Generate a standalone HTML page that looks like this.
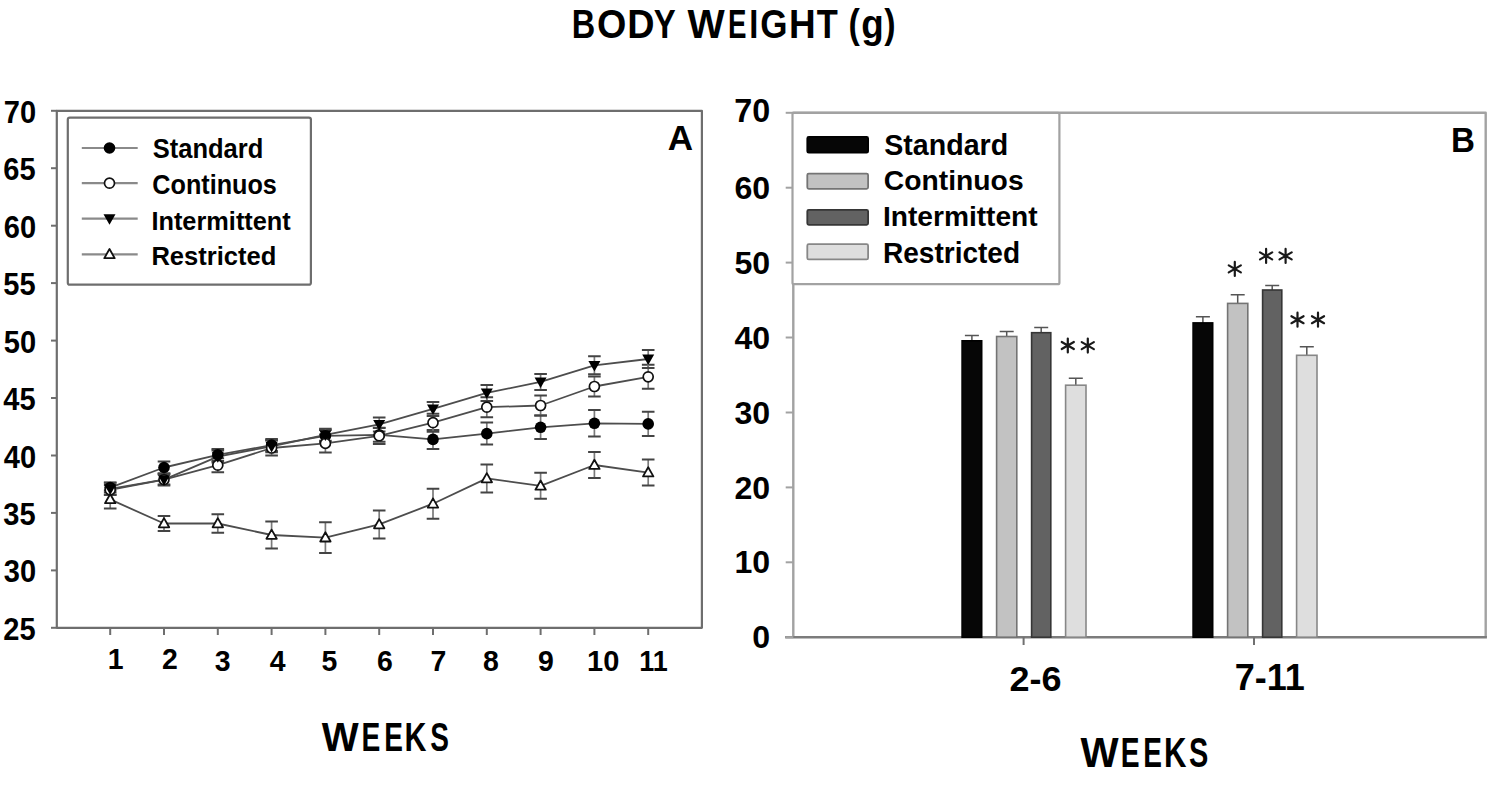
<!DOCTYPE html>
<html><head><meta charset="utf-8"><title>Body weight</title>
<style>
html,body{margin:0;padding:0;background:#fff;}
body{width:1495px;height:787px;overflow:hidden;}
svg{display:block;}
text{font-family:"Liberation Sans", sans-serif;font-weight:bold;fill:#000;}
</style></head><body>
<svg width="1495" height="787" viewBox="0 0 1495 787">
<rect width="1495" height="787" fill="#fff"/>
<text transform="translate(571.77,38.10) scale(0.7941,1)" font-size="40.90">B</text>
<text transform="translate(596.92,38.10) scale(0.9219,1)" font-size="40.90">O</text>
<text transform="translate(627.34,38.10) scale(0.9232,1)" font-size="40.90">D</text>
<text transform="translate(653.79,38.10) scale(0.8053,1)" font-size="40.90">Y</text>
<text transform="translate(687.50,38.10) scale(0.9645,1)" font-size="40.90">W</text>
<text transform="translate(727.97,38.10) scale(0.6767,1)" font-size="40.90">E</text>
<text transform="translate(749.16,38.10) scale(0.7980,1)" font-size="40.90">I</text>
<text transform="translate(760.20,38.10) scale(0.8571,1)" font-size="40.90">G</text>
<text transform="translate(789.09,38.10) scale(0.9018,1)" font-size="40.90">H</text>
<text transform="translate(816.70,38.10) scale(0.8426,1)" font-size="40.90">T</text>
<text transform="translate(848.61,38.10) scale(0.8318,1)" font-size="40.90">(</text>
<text transform="translate(861.15,38.10) scale(0.9009,1)" font-size="40.90">g</text>
<text transform="translate(884.30,38.10) scale(0.8318,1)" font-size="40.90">)</text>
<rect x="56.8" y="110.8" width="645.1" height="517.0" fill="none" stroke="#6e6e6e" stroke-width="2.2" stroke-linejoin="round"/>
<line x1="51" y1="110.8" x2="56.8" y2="110.8" stroke="#6e6e6e" stroke-width="2"/>
<text transform="translate(3.74,122.91) scale(0.9200,1)" font-size="31.60">70</text>
<line x1="51" y1="168.2" x2="56.8" y2="168.2" stroke="#6e6e6e" stroke-width="2"/>
<text transform="translate(3.29,180.35) scale(0.9200,1)" font-size="31.60">65</text>
<line x1="51" y1="225.7" x2="56.8" y2="225.7" stroke="#6e6e6e" stroke-width="2"/>
<text transform="translate(3.74,237.80) scale(0.9200,1)" font-size="31.60">60</text>
<line x1="51" y1="283.1" x2="56.8" y2="283.1" stroke="#6e6e6e" stroke-width="2"/>
<text transform="translate(3.29,295.24) scale(0.9200,1)" font-size="31.60">55</text>
<line x1="51" y1="340.6" x2="56.8" y2="340.6" stroke="#6e6e6e" stroke-width="2"/>
<text transform="translate(3.74,352.69) scale(0.9200,1)" font-size="31.60">50</text>
<line x1="51" y1="398.0" x2="56.8" y2="398.0" stroke="#6e6e6e" stroke-width="2"/>
<text transform="translate(3.29,410.13) scale(0.9200,1)" font-size="31.60">45</text>
<line x1="51" y1="455.5" x2="56.8" y2="455.5" stroke="#6e6e6e" stroke-width="2"/>
<text transform="translate(3.74,467.57) scale(0.9200,1)" font-size="31.60">40</text>
<line x1="51" y1="512.9" x2="56.8" y2="512.9" stroke="#6e6e6e" stroke-width="2"/>
<text transform="translate(3.29,525.02) scale(0.9200,1)" font-size="31.60">35</text>
<line x1="51" y1="570.4" x2="56.8" y2="570.4" stroke="#6e6e6e" stroke-width="2"/>
<text transform="translate(3.74,582.46) scale(0.9200,1)" font-size="31.60">30</text>
<line x1="51" y1="627.8" x2="56.8" y2="627.8" stroke="#6e6e6e" stroke-width="2"/>
<text transform="translate(3.29,639.91) scale(0.9200,1)" font-size="31.60">25</text>
<line x1="110.2" y1="627.8" x2="110.2" y2="635" stroke="#6e6e6e" stroke-width="2"/>
<line x1="164.0" y1="627.8" x2="164.0" y2="635" stroke="#6e6e6e" stroke-width="2"/>
<line x1="217.8" y1="627.8" x2="217.8" y2="635" stroke="#6e6e6e" stroke-width="2"/>
<line x1="271.6" y1="627.8" x2="271.6" y2="635" stroke="#6e6e6e" stroke-width="2"/>
<line x1="325.4" y1="627.8" x2="325.4" y2="635" stroke="#6e6e6e" stroke-width="2"/>
<line x1="379.2" y1="627.8" x2="379.2" y2="635" stroke="#6e6e6e" stroke-width="2"/>
<line x1="433.0" y1="627.8" x2="433.0" y2="635" stroke="#6e6e6e" stroke-width="2"/>
<line x1="486.8" y1="627.8" x2="486.8" y2="635" stroke="#6e6e6e" stroke-width="2"/>
<line x1="540.6" y1="627.8" x2="540.6" y2="635" stroke="#6e6e6e" stroke-width="2"/>
<line x1="594.4" y1="627.8" x2="594.4" y2="635" stroke="#6e6e6e" stroke-width="2"/>
<line x1="648.2" y1="627.8" x2="648.2" y2="635" stroke="#6e6e6e" stroke-width="2"/>
<text transform="translate(107.66,669.30) scale(0.9800,1)" font-size="29.00">1</text>
<text transform="translate(161.91,669.30) scale(0.9800,1)" font-size="29.00">2</text>
<text transform="translate(214.63,671.40) scale(0.9800,1)" font-size="29.00">3</text>
<text transform="translate(269.71,671.40) scale(0.9800,1)" font-size="29.00">4</text>
<text transform="translate(321.43,671.40) scale(0.9800,1)" font-size="29.00">5</text>
<text transform="translate(376.91,671.40) scale(0.9800,1)" font-size="29.00">6</text>
<text transform="translate(430.53,671.40) scale(0.9800,1)" font-size="29.00">7</text>
<text transform="translate(482.91,671.40) scale(0.9800,1)" font-size="29.00">8</text>
<text transform="translate(538.11,671.40) scale(0.9800,1)" font-size="29.00">9</text>
<text transform="translate(587.05,671.40) scale(1.0000,1)" font-size="29.00">10</text>
<text transform="translate(639.14,671.40) scale(0.9300,1)" font-size="29.00">11</text>
<rect x="67.8" y="117.6" rx="2" width="243.1" height="167.1" fill="#fff" stroke="#6e6e6e" stroke-width="2.2"/>
<line x1="81.8" y1="148" x2="137.7" y2="148" stroke="#8a8a8a" stroke-width="2.2"/>
<circle cx="109.5" cy="148.0" r="5.8" fill="#000"/>
<text transform="translate(152.70,158.40) scale(0.9420,1)" font-size="27.10">Standard</text>
<line x1="81.8" y1="183.2" x2="137.7" y2="183.2" stroke="#8a8a8a" stroke-width="2.2"/>
<circle cx="109.5" cy="183.2" r="5.0" fill="#fff" stroke="#111" stroke-width="1.7"/>
<text transform="translate(152.31,194.20) scale(0.9302,1)" font-size="27.10">Continuos</text>
<line x1="81.8" y1="218.7" x2="137.7" y2="218.7" stroke="#8a8a8a" stroke-width="2.2"/>
<path d="M103.5,214.3L115.5,214.3L109.5,224.8Z" fill="#000"/>
<text transform="translate(151.42,229.60) scale(0.9497,1)" font-size="26.69">Intermittent</text>
<line x1="81.8" y1="254.3" x2="137.7" y2="254.3" stroke="#8a8a8a" stroke-width="2.2"/>
<path d="M104.3,258.2L114.7,258.2L109.5,249.0Z" fill="#fff" stroke="#111" stroke-width="1.8" stroke-linejoin="round"/>
<text transform="translate(151.40,264.60) scale(0.9728,1)" font-size="26.28">Restricted</text>
<text transform="translate(667.75,150.20) scale(0.9820,1)" font-size="35.70">A</text>
<path d="M110.2,482.6V492.6" stroke="#7a7a7a" stroke-width="1.7" fill="none"/>
<path d="M103.9,482.6H116.5M103.9,492.6H116.5" stroke="#444" stroke-width="2.0" fill="none"/>
<path d="M164.0,461.5V473.5" stroke="#7a7a7a" stroke-width="1.7" fill="none"/>
<path d="M157.7,461.5H170.3M157.7,473.5H170.3" stroke="#444" stroke-width="2.0" fill="none"/>
<path d="M217.8,448.9V460.9" stroke="#7a7a7a" stroke-width="1.7" fill="none"/>
<path d="M211.5,448.9H224.1M211.5,460.9H224.1" stroke="#444" stroke-width="2.0" fill="none"/>
<path d="M271.6,439.1V451.1" stroke="#7a7a7a" stroke-width="1.7" fill="none"/>
<path d="M265.3,439.1H277.9M265.3,451.1H277.9" stroke="#444" stroke-width="2.0" fill="none"/>
<path d="M325.4,429.9V441.9" stroke="#7a7a7a" stroke-width="1.7" fill="none"/>
<path d="M319.1,429.9H331.7M319.1,441.9H331.7" stroke="#444" stroke-width="2.0" fill="none"/>
<path d="M379.2,427.8V441.8" stroke="#7a7a7a" stroke-width="1.7" fill="none"/>
<path d="M372.9,427.8H385.5M372.9,441.8H385.5" stroke="#444" stroke-width="2.0" fill="none"/>
<path d="M433.0,429.9V448.9" stroke="#7a7a7a" stroke-width="1.7" fill="none"/>
<path d="M426.7,429.9H439.3M426.7,448.9H439.3" stroke="#444" stroke-width="2.0" fill="none"/>
<path d="M486.8,422.6V444.6" stroke="#7a7a7a" stroke-width="1.7" fill="none"/>
<path d="M480.5,422.6H493.1M480.5,444.6H493.1" stroke="#444" stroke-width="2.0" fill="none"/>
<path d="M540.6,415.6V439.0" stroke="#7a7a7a" stroke-width="1.7" fill="none"/>
<path d="M534.3,415.6H546.9M534.3,439.0H546.9" stroke="#444" stroke-width="2.0" fill="none"/>
<path d="M594.4,410.0V436.6" stroke="#7a7a7a" stroke-width="1.7" fill="none"/>
<path d="M588.1,410.0H600.7M588.1,436.6H600.7" stroke="#444" stroke-width="2.0" fill="none"/>
<path d="M648.2,411.7V436.1" stroke="#7a7a7a" stroke-width="1.7" fill="none"/>
<path d="M641.9,411.7H654.5M641.9,436.1H654.5" stroke="#444" stroke-width="2.0" fill="none"/>
<path d="M110.2,484.9V494.9" stroke="#7a7a7a" stroke-width="1.7" fill="none"/>
<path d="M103.9,484.9H116.5M103.9,494.9H116.5" stroke="#444" stroke-width="2.0" fill="none"/>
<path d="M164.0,474.6V484.6" stroke="#7a7a7a" stroke-width="1.7" fill="none"/>
<path d="M157.7,474.6H170.3M157.7,484.6H170.3" stroke="#444" stroke-width="2.0" fill="none"/>
<path d="M217.8,458.2V472.2" stroke="#7a7a7a" stroke-width="1.7" fill="none"/>
<path d="M211.5,458.2H224.1M211.5,472.2H224.1" stroke="#444" stroke-width="2.0" fill="none"/>
<path d="M271.6,440.5V455.5" stroke="#7a7a7a" stroke-width="1.7" fill="none"/>
<path d="M265.3,440.5H277.9M265.3,455.5H277.9" stroke="#444" stroke-width="2.0" fill="none"/>
<path d="M325.4,434.4V452.4" stroke="#7a7a7a" stroke-width="1.7" fill="none"/>
<path d="M319.1,434.4H331.7M319.1,452.4H331.7" stroke="#444" stroke-width="2.0" fill="none"/>
<path d="M379.2,427.9V443.9" stroke="#7a7a7a" stroke-width="1.7" fill="none"/>
<path d="M372.9,427.9H385.5M372.9,443.9H385.5" stroke="#444" stroke-width="2.0" fill="none"/>
<path d="M433.0,413.7V431.7" stroke="#7a7a7a" stroke-width="1.7" fill="none"/>
<path d="M426.7,413.7H439.3M426.7,431.7H439.3" stroke="#444" stroke-width="2.0" fill="none"/>
<path d="M486.8,397.2V417.2" stroke="#7a7a7a" stroke-width="1.7" fill="none"/>
<path d="M480.5,397.2H493.1M480.5,417.2H493.1" stroke="#444" stroke-width="2.0" fill="none"/>
<path d="M540.6,395.5V415.5" stroke="#7a7a7a" stroke-width="1.7" fill="none"/>
<path d="M534.3,395.5H546.9M534.3,415.5H546.9" stroke="#444" stroke-width="2.0" fill="none"/>
<path d="M594.4,376.5V396.5" stroke="#7a7a7a" stroke-width="1.7" fill="none"/>
<path d="M588.1,376.5H600.7M588.1,396.5H600.7" stroke="#444" stroke-width="2.0" fill="none"/>
<path d="M648.2,364.8V388.8" stroke="#7a7a7a" stroke-width="1.7" fill="none"/>
<path d="M641.9,364.8H654.5M641.9,388.8H654.5" stroke="#444" stroke-width="2.0" fill="none"/>
<path d="M110.2,482.8V494.8" stroke="#7a7a7a" stroke-width="1.7" fill="none"/>
<path d="M103.9,482.8H116.5M103.9,494.8H116.5" stroke="#444" stroke-width="2.0" fill="none"/>
<path d="M164.0,473.6V485.6" stroke="#7a7a7a" stroke-width="1.7" fill="none"/>
<path d="M157.7,473.6H170.3M157.7,485.6H170.3" stroke="#444" stroke-width="2.0" fill="none"/>
<path d="M217.8,450.6V462.6" stroke="#7a7a7a" stroke-width="1.7" fill="none"/>
<path d="M211.5,450.6H224.1M211.5,462.6H224.1" stroke="#444" stroke-width="2.0" fill="none"/>
<path d="M271.6,440.3V452.3" stroke="#7a7a7a" stroke-width="1.7" fill="none"/>
<path d="M265.3,440.3H277.9M265.3,452.3H277.9" stroke="#444" stroke-width="2.0" fill="none"/>
<path d="M325.4,428.8V440.8" stroke="#7a7a7a" stroke-width="1.7" fill="none"/>
<path d="M319.1,428.8H331.7M319.1,440.8H331.7" stroke="#444" stroke-width="2.0" fill="none"/>
<path d="M379.2,417.4V431.4" stroke="#7a7a7a" stroke-width="1.7" fill="none"/>
<path d="M372.9,417.4H385.5M372.9,431.4H385.5" stroke="#444" stroke-width="2.0" fill="none"/>
<path d="M433.0,401.9V415.9" stroke="#7a7a7a" stroke-width="1.7" fill="none"/>
<path d="M426.7,401.9H439.3M426.7,415.9H439.3" stroke="#444" stroke-width="2.0" fill="none"/>
<path d="M486.8,384.9V400.9" stroke="#7a7a7a" stroke-width="1.7" fill="none"/>
<path d="M480.5,384.9H493.1M480.5,400.9H493.1" stroke="#444" stroke-width="2.0" fill="none"/>
<path d="M540.6,373.9V389.9" stroke="#7a7a7a" stroke-width="1.7" fill="none"/>
<path d="M534.3,373.9H546.9M534.3,389.9H546.9" stroke="#444" stroke-width="2.0" fill="none"/>
<path d="M594.4,356.3V374.3" stroke="#7a7a7a" stroke-width="1.7" fill="none"/>
<path d="M588.1,356.3H600.7M588.1,374.3H600.7" stroke="#444" stroke-width="2.0" fill="none"/>
<path d="M648.2,350.0V368.0" stroke="#7a7a7a" stroke-width="1.7" fill="none"/>
<path d="M641.9,350.0H654.5M641.9,368.0H654.5" stroke="#444" stroke-width="2.0" fill="none"/>
<path d="M110.2,490.4V508.4" stroke="#7a7a7a" stroke-width="1.7" fill="none"/>
<path d="M103.9,490.4H116.5M103.9,508.4H116.5" stroke="#444" stroke-width="2.0" fill="none"/>
<path d="M164.0,516.0V531.0" stroke="#7a7a7a" stroke-width="1.7" fill="none"/>
<path d="M157.7,516.0H170.3M157.7,531.0H170.3" stroke="#444" stroke-width="2.0" fill="none"/>
<path d="M217.8,514.2V532.8" stroke="#7a7a7a" stroke-width="1.7" fill="none"/>
<path d="M211.5,514.2H224.1M211.5,532.8H224.1" stroke="#444" stroke-width="2.0" fill="none"/>
<path d="M271.6,521.5V548.5" stroke="#7a7a7a" stroke-width="1.7" fill="none"/>
<path d="M265.3,521.5H277.9M265.3,548.5H277.9" stroke="#444" stroke-width="2.0" fill="none"/>
<path d="M325.4,522.3V552.9" stroke="#7a7a7a" stroke-width="1.7" fill="none"/>
<path d="M319.1,522.3H331.7M319.1,552.9H331.7" stroke="#444" stroke-width="2.0" fill="none"/>
<path d="M379.2,510.4V538.4" stroke="#7a7a7a" stroke-width="1.7" fill="none"/>
<path d="M372.9,510.4H385.5M372.9,538.4H385.5" stroke="#444" stroke-width="2.0" fill="none"/>
<path d="M433.0,488.7V518.7" stroke="#7a7a7a" stroke-width="1.7" fill="none"/>
<path d="M426.7,488.7H439.3M426.7,518.7H439.3" stroke="#444" stroke-width="2.0" fill="none"/>
<path d="M486.8,464.4V492.4" stroke="#7a7a7a" stroke-width="1.7" fill="none"/>
<path d="M480.5,464.4H493.1M480.5,492.4H493.1" stroke="#444" stroke-width="2.0" fill="none"/>
<path d="M540.6,472.8V498.8" stroke="#7a7a7a" stroke-width="1.7" fill="none"/>
<path d="M534.3,472.8H546.9M534.3,498.8H546.9" stroke="#444" stroke-width="2.0" fill="none"/>
<path d="M594.4,452.0V478.0" stroke="#7a7a7a" stroke-width="1.7" fill="none"/>
<path d="M588.1,452.0H600.7M588.1,478.0H600.7" stroke="#444" stroke-width="2.0" fill="none"/>
<path d="M648.2,459.6V485.6" stroke="#7a7a7a" stroke-width="1.7" fill="none"/>
<path d="M641.9,459.6H654.5M641.9,485.6H654.5" stroke="#444" stroke-width="2.0" fill="none"/>
<polyline points="110.2,487.6 164.0,467.5 217.8,454.9 271.6,445.1 325.4,435.9 379.2,434.8 433.0,439.4 486.8,433.6 540.6,427.3 594.4,423.3 648.2,423.9" fill="none" stroke="#4d4d4d" stroke-width="1.8" stroke-linejoin="round"/>
<polyline points="110.2,489.9 164.0,479.6 217.8,465.2 271.6,448.0 325.4,443.4 379.2,435.9 433.0,422.7 486.8,407.2 540.6,405.5 594.4,386.5 648.2,376.8" fill="none" stroke="#4d4d4d" stroke-width="1.8" stroke-linejoin="round"/>
<polyline points="110.2,488.8 164.0,479.6 217.8,456.6 271.6,446.3 325.4,434.8 379.2,424.4 433.0,408.9 486.8,392.9 540.6,381.9 594.4,365.3 648.2,359.0" fill="none" stroke="#4d4d4d" stroke-width="1.8" stroke-linejoin="round"/>
<polyline points="110.2,499.4 164.0,523.5 217.8,523.5 271.6,535.0 325.4,537.6 379.2,524.4 433.0,503.7 486.8,478.4 540.6,485.8 594.4,465.0 648.2,472.6" fill="none" stroke="#4d4d4d" stroke-width="1.8" stroke-linejoin="round"/>
<circle cx="110.2" cy="487.6" r="5.8" fill="#000"/>
<circle cx="164.0" cy="467.5" r="5.8" fill="#000"/>
<circle cx="217.8" cy="454.9" r="5.8" fill="#000"/>
<circle cx="271.6" cy="445.1" r="5.8" fill="#000"/>
<circle cx="325.4" cy="435.9" r="5.8" fill="#000"/>
<circle cx="379.2" cy="434.8" r="5.8" fill="#000"/>
<circle cx="433.0" cy="439.4" r="5.8" fill="#000"/>
<circle cx="486.8" cy="433.6" r="5.8" fill="#000"/>
<circle cx="540.6" cy="427.3" r="5.8" fill="#000"/>
<circle cx="594.4" cy="423.3" r="5.8" fill="#000"/>
<circle cx="648.2" cy="423.9" r="5.8" fill="#000"/>
<circle cx="110.2" cy="489.9" r="5.0" fill="#fff" stroke="#111" stroke-width="1.7"/>
<circle cx="164.0" cy="479.6" r="5.0" fill="#fff" stroke="#111" stroke-width="1.7"/>
<circle cx="217.8" cy="465.2" r="5.0" fill="#fff" stroke="#111" stroke-width="1.7"/>
<circle cx="271.6" cy="448.0" r="5.0" fill="#fff" stroke="#111" stroke-width="1.7"/>
<circle cx="325.4" cy="443.4" r="5.0" fill="#fff" stroke="#111" stroke-width="1.7"/>
<circle cx="379.2" cy="435.9" r="5.0" fill="#fff" stroke="#111" stroke-width="1.7"/>
<circle cx="433.0" cy="422.7" r="5.0" fill="#fff" stroke="#111" stroke-width="1.7"/>
<circle cx="486.8" cy="407.2" r="5.0" fill="#fff" stroke="#111" stroke-width="1.7"/>
<circle cx="540.6" cy="405.5" r="5.0" fill="#fff" stroke="#111" stroke-width="1.7"/>
<circle cx="594.4" cy="386.5" r="5.0" fill="#fff" stroke="#111" stroke-width="1.7"/>
<circle cx="648.2" cy="376.8" r="5.0" fill="#fff" stroke="#111" stroke-width="1.7"/>
<path d="M104.2,484.4L116.2,484.4L110.2,494.9Z" fill="#000"/>
<path d="M158.0,475.2L170.0,475.2L164.0,485.7Z" fill="#000"/>
<path d="M211.8,452.2L223.8,452.2L217.8,462.7Z" fill="#000"/>
<path d="M265.6,441.9L277.6,441.9L271.6,452.4Z" fill="#000"/>
<path d="M319.4,430.4L331.4,430.4L325.4,440.9Z" fill="#000"/>
<path d="M373.2,420.0L385.2,420.0L379.2,430.5Z" fill="#000"/>
<path d="M427.0,404.5L439.0,404.5L433.0,415.0Z" fill="#000"/>
<path d="M480.8,388.4L492.8,388.4L486.8,398.9Z" fill="#000"/>
<path d="M534.6,377.5L546.6,377.5L540.6,388.0Z" fill="#000"/>
<path d="M588.4,360.9L600.4,360.9L594.4,371.4Z" fill="#000"/>
<path d="M642.2,354.6L654.2,354.6L648.2,365.1Z" fill="#000"/>
<path d="M105.0,503.2L115.4,503.2L110.2,494.0Z" fill="#fff" stroke="#111" stroke-width="1.8" stroke-linejoin="round"/>
<path d="M158.8,527.3L169.2,527.3L164.0,518.1Z" fill="#fff" stroke="#111" stroke-width="1.8" stroke-linejoin="round"/>
<path d="M212.6,527.3L223.0,527.3L217.8,518.1Z" fill="#fff" stroke="#111" stroke-width="1.8" stroke-linejoin="round"/>
<path d="M266.4,538.8L276.8,538.8L271.6,529.6Z" fill="#fff" stroke="#111" stroke-width="1.8" stroke-linejoin="round"/>
<path d="M320.2,541.5L330.6,541.5L325.4,532.3Z" fill="#fff" stroke="#111" stroke-width="1.8" stroke-linejoin="round"/>
<path d="M374.0,528.3L384.4,528.3L379.2,519.1Z" fill="#fff" stroke="#111" stroke-width="1.8" stroke-linejoin="round"/>
<path d="M427.8,507.6L438.2,507.6L433.0,498.4Z" fill="#fff" stroke="#111" stroke-width="1.8" stroke-linejoin="round"/>
<path d="M481.6,482.3L492.0,482.3L486.8,473.1Z" fill="#fff" stroke="#111" stroke-width="1.8" stroke-linejoin="round"/>
<path d="M535.4,489.7L545.8,489.7L540.6,480.5Z" fill="#fff" stroke="#111" stroke-width="1.8" stroke-linejoin="round"/>
<path d="M589.2,468.9L599.6,468.9L594.4,459.7Z" fill="#fff" stroke="#111" stroke-width="1.8" stroke-linejoin="round"/>
<path d="M643.0,476.4L653.4,476.4L648.2,467.2Z" fill="#fff" stroke="#111" stroke-width="1.8" stroke-linejoin="round"/>
<text transform="translate(321.70,751.00) scale(0.9735,1)" font-size="40.20">W</text>
<text transform="translate(361.44,751.00) scale(0.7014,1)" font-size="40.20">E</text>
<text transform="translate(384.35,751.00) scale(0.6971,1)" font-size="40.20">E</text>
<text transform="translate(404.60,751.00) scale(0.7543,1)" font-size="40.20">K</text>
<text transform="translate(430.16,751.00) scale(0.6965,1)" font-size="40.20">S</text>
<path d="M793.3,637.2V112.8H1485.7V637.2" fill="none" stroke="#a2a2a2" stroke-width="2.4" stroke-linejoin="round"/>
<line x1="785.2" y1="637.2" x2="1486.9" y2="637.2" stroke="#7c7c7c" stroke-width="2.4"/>
<line x1="785.7" y1="637.2" x2="793.3" y2="637.2" stroke="#a2a2a2" stroke-width="2"/>
<text transform="translate(752.33,648.36) scale(1.0500,1)" font-size="30.60">0</text>
<line x1="785.7" y1="562.3" x2="793.3" y2="562.3" stroke="#a2a2a2" stroke-width="2"/>
<text transform="translate(734.46,573.44) scale(1.0500,1)" font-size="30.60">10</text>
<line x1="785.7" y1="487.4" x2="793.3" y2="487.4" stroke="#a2a2a2" stroke-width="2"/>
<text transform="translate(734.46,498.53) scale(1.0500,1)" font-size="30.60">20</text>
<line x1="785.7" y1="412.5" x2="793.3" y2="412.5" stroke="#a2a2a2" stroke-width="2"/>
<text transform="translate(734.46,423.61) scale(1.0500,1)" font-size="30.60">30</text>
<line x1="785.7" y1="337.5" x2="793.3" y2="337.5" stroke="#a2a2a2" stroke-width="2"/>
<text transform="translate(734.46,348.70) scale(1.0500,1)" font-size="30.60">40</text>
<line x1="785.7" y1="262.6" x2="793.3" y2="262.6" stroke="#a2a2a2" stroke-width="2"/>
<text transform="translate(734.46,273.78) scale(1.0500,1)" font-size="30.60">50</text>
<line x1="785.7" y1="187.7" x2="793.3" y2="187.7" stroke="#a2a2a2" stroke-width="2"/>
<text transform="translate(734.46,198.87) scale(1.0500,1)" font-size="30.60">60</text>
<line x1="785.7" y1="112.8" x2="793.3" y2="112.8" stroke="#a2a2a2" stroke-width="2"/>
<text transform="translate(734.29,121.70) scale(0.9958,1)" font-size="32.43">70</text>
<line x1="1023.6" y1="637.2" x2="1023.6" y2="645" stroke="#707070" stroke-width="2"/>
<line x1="1254" y1="637.2" x2="1254" y2="645" stroke="#707070" stroke-width="2"/>
<rect x="792.5" y="112.8" rx="1.5" width="266.9" height="171.4" fill="#fff" stroke="#a2a2a2" stroke-width="2.2"/>
<rect x="807.3" y="136.9" rx="1.5" width="60.8" height="15.8" fill="#060606" stroke="#000" stroke-width="1.8"/>
<text transform="translate(884.25,154.50) scale(0.9901,1)" font-size="28.87">Standard</text>
<rect x="807.3" y="173.6" rx="1.5" width="60.8" height="15.2" fill="#c2c2c2" stroke="#747474" stroke-width="1.8"/>
<text transform="translate(883.82,190.40) scale(0.9987,1)" font-size="28.32">Continuos</text>
<rect x="807.3" y="209.8" rx="1.5" width="60.8" height="15.0" fill="#626262" stroke="#363636" stroke-width="1.8"/>
<text transform="translate(882.94,226.30) scale(0.9937,1)" font-size="28.32">Intermittent</text>
<rect x="807.3" y="244.2" rx="1.5" width="60.8" height="15.2" fill="#dedede" stroke="#878787" stroke-width="1.8"/>
<text transform="translate(882.95,263.20) scale(0.9807,1)" font-size="28.60">Restricted</text>
<text transform="translate(1450.93,152.20) scale(0.9544,1)" font-size="34.70">B</text>
<path d="M971.9,340.8V335.4M964.9,335.4H978.9" stroke="#555" stroke-width="1.5" fill="none"/>
<rect x="962.1" y="340.8" width="19.6" height="296.4" fill="#060606" stroke="#000" stroke-width="1.6"/>
<path d="M1006.7,336.5V331.4M999.7,331.4H1013.7" stroke="#555" stroke-width="1.5" fill="none"/>
<rect x="996.6" y="336.5" width="20.2" height="300.7" fill="#c2c2c2" stroke="#747474" stroke-width="1.6"/>
<path d="M1041.2,332.7V327.4M1034.2,327.4H1048.2" stroke="#555" stroke-width="1.5" fill="none"/>
<rect x="1031.6" y="332.7" width="19.2" height="304.5" fill="#626262" stroke="#363636" stroke-width="1.6"/>
<path d="M1075.8,385.2V378.2M1068.8,378.2H1082.8" stroke="#555" stroke-width="1.5" fill="none"/>
<rect x="1065.6" y="385.2" width="20.4" height="252.0" fill="#dedede" stroke="#878787" stroke-width="1.6"/>
<path d="M1202.9,322.9V316.8M1195.9,316.8H1209.9" stroke="#555" stroke-width="1.5" fill="none"/>
<rect x="1193.1" y="322.9" width="19.6" height="314.3" fill="#060606" stroke="#000" stroke-width="1.6"/>
<path d="M1237.7,303.4V294.8M1230.7,294.8H1244.7" stroke="#555" stroke-width="1.5" fill="none"/>
<rect x="1227.6" y="303.4" width="20.2" height="333.8" fill="#c2c2c2" stroke="#747474" stroke-width="1.6"/>
<path d="M1272.2,290.0V285.5M1265.2,285.5H1279.2" stroke="#555" stroke-width="1.5" fill="none"/>
<rect x="1262.6" y="290.0" width="19.2" height="347.2" fill="#626262" stroke="#363636" stroke-width="1.6"/>
<path d="M1306.8,355.3V346.7M1299.8,346.7H1313.8" stroke="#555" stroke-width="1.5" fill="none"/>
<rect x="1296.6" y="355.3" width="20.4" height="281.9" fill="#dedede" stroke="#878787" stroke-width="1.6"/>
<path d="M1067.80,352.50L1067.80,338.50M1061.74,349.00L1073.86,342.00M1061.74,342.00L1073.86,349.00" stroke="#1a1a1a" stroke-width="2.2" stroke-linecap="round" fill="none"/>
<path d="M1087.80,352.60L1087.80,338.60M1081.74,349.10L1093.86,342.10M1081.74,342.10L1093.86,349.10" stroke="#1a1a1a" stroke-width="2.2" stroke-linecap="round" fill="none"/>
<path d="M1234.80,275.90L1234.80,261.90M1228.74,272.40L1240.86,265.40M1228.74,265.40L1240.86,272.40" stroke="#1a1a1a" stroke-width="2.2" stroke-linecap="round" fill="none"/>
<path d="M1266.10,262.90L1266.10,248.90M1260.04,259.40L1272.16,252.40M1260.04,252.40L1272.16,259.40" stroke="#1a1a1a" stroke-width="2.2" stroke-linecap="round" fill="none"/>
<path d="M1285.60,262.90L1285.60,248.90M1279.54,259.40L1291.66,252.40M1279.54,252.40L1291.66,259.40" stroke="#1a1a1a" stroke-width="2.2" stroke-linecap="round" fill="none"/>
<path d="M1297.50,326.70L1297.50,312.70M1291.44,323.20L1303.56,316.20M1291.44,316.20L1303.56,323.20" stroke="#1a1a1a" stroke-width="2.2" stroke-linecap="round" fill="none"/>
<path d="M1318.00,326.70L1318.00,312.70M1311.94,323.20L1324.06,316.20M1311.94,316.20L1324.06,323.20" stroke="#1a1a1a" stroke-width="2.2" stroke-linecap="round" fill="none"/>
<text transform="translate(1009.58,691.00) scale(1.0288,1)" font-size="34.99">2-6</text>
<text transform="translate(1234.77,689.60) scale(0.9896,1)" font-size="36.41">7-11</text>
<text transform="translate(1080.50,767.30) scale(0.9664,1)" font-size="41.80">W</text>
<text transform="translate(1120.84,767.30) scale(0.6745,1)" font-size="41.80">E</text>
<text transform="translate(1143.15,767.30) scale(0.6704,1)" font-size="41.80">E</text>
<text transform="translate(1164.06,767.30) scale(0.7437,1)" font-size="41.80">K</text>
<text transform="translate(1188.95,767.30) scale(0.6928,1)" font-size="41.80">S</text>
</svg>
</body></html>
